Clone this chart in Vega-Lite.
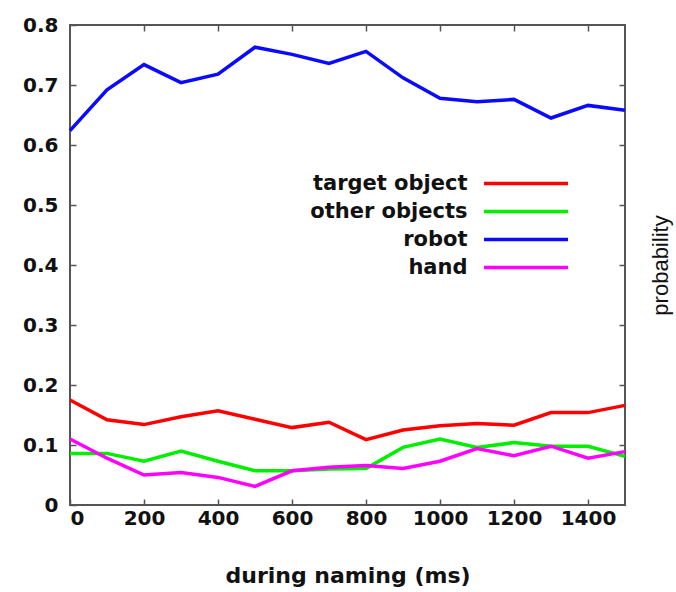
{
  "$schema": "https://vega.github.io/schema/vega-lite/v6.json",
  "width": 555,
  "height": 480,
  "autosize": "none",
  "padding": {"left": 70, "top": 25, "right": 51, "bottom": 87},
  "background": "white",
  "config": {
    "view": {"stroke": "#555", "strokeWidth": 2},
    "axis": {
      "domain": false, "grid": false, "tickColor": "#555", "tickSize": -6, "tickWidth": 1.5,
      "labelFont": "DejaVu Sans", "labelFontWeight": "bold", "labelFontSize": 20, "labelColor": "#111",
      "titleFont": "DejaVu Sans", "titleColor": "#111"
    }
  },
  "data": {"values": [
    {"t": 0, "series": "robot", "p": 0.624}, {"t": 100, "series": "robot", "p": 0.692}, {"t": 200, "series": "robot", "p": 0.734}, {"t": 300, "series": "robot", "p": 0.704},
    {"t": 400, "series": "robot", "p": 0.718}, {"t": 500, "series": "robot", "p": 0.763}, {"t": 600, "series": "robot", "p": 0.751}, {"t": 700, "series": "robot", "p": 0.736},
    {"t": 800, "series": "robot", "p": 0.756}, {"t": 900, "series": "robot", "p": 0.712}, {"t": 1000, "series": "robot", "p": 0.678}, {"t": 1100, "series": "robot", "p": 0.672},
    {"t": 1200, "series": "robot", "p": 0.676}, {"t": 1300, "series": "robot", "p": 0.645}, {"t": 1400, "series": "robot", "p": 0.666}, {"t": 1500, "series": "robot", "p": 0.658},
    {"t": 0, "series": "target object", "p": 0.175}, {"t": 100, "series": "target object", "p": 0.142}, {"t": 200, "series": "target object", "p": 0.134}, {"t": 300, "series": "target object", "p": 0.147},
    {"t": 400, "series": "target object", "p": 0.157}, {"t": 500, "series": "target object", "p": 0.143}, {"t": 600, "series": "target object", "p": 0.129}, {"t": 700, "series": "target object", "p": 0.138},
    {"t": 800, "series": "target object", "p": 0.109}, {"t": 900, "series": "target object", "p": 0.125}, {"t": 1000, "series": "target object", "p": 0.132}, {"t": 1100, "series": "target object", "p": 0.136},
    {"t": 1200, "series": "target object", "p": 0.133}, {"t": 1300, "series": "target object", "p": 0.154}, {"t": 1400, "series": "target object", "p": 0.154}, {"t": 1500, "series": "target object", "p": 0.166},
    {"t": 0, "series": "other objects", "p": 0.086}, {"t": 100, "series": "other objects", "p": 0.086}, {"t": 200, "series": "other objects", "p": 0.073}, {"t": 300, "series": "other objects", "p": 0.09},
    {"t": 400, "series": "other objects", "p": 0.073}, {"t": 500, "series": "other objects", "p": 0.057}, {"t": 600, "series": "other objects", "p": 0.057}, {"t": 700, "series": "other objects", "p": 0.06},
    {"t": 800, "series": "other objects", "p": 0.061}, {"t": 900, "series": "other objects", "p": 0.096}, {"t": 1000, "series": "other objects", "p": 0.11}, {"t": 1100, "series": "other objects", "p": 0.096},
    {"t": 1200, "series": "other objects", "p": 0.104}, {"t": 1300, "series": "other objects", "p": 0.098}, {"t": 1400, "series": "other objects", "p": 0.098}, {"t": 1500, "series": "other objects", "p": 0.081},
    {"t": 0, "series": "hand", "p": 0.11}, {"t": 100, "series": "hand", "p": 0.078}, {"t": 200, "series": "hand", "p": 0.05}, {"t": 300, "series": "hand", "p": 0.054},
    {"t": 400, "series": "hand", "p": 0.046}, {"t": 500, "series": "hand", "p": 0.031}, {"t": 600, "series": "hand", "p": 0.057}, {"t": 700, "series": "hand", "p": 0.063},
    {"t": 800, "series": "hand", "p": 0.066}, {"t": 900, "series": "hand", "p": 0.061}, {"t": 1000, "series": "hand", "p": 0.073}, {"t": 1100, "series": "hand", "p": 0.094},
    {"t": 1200, "series": "hand", "p": 0.082}, {"t": 1300, "series": "hand", "p": 0.098}, {"t": 1400, "series": "hand", "p": 0.078}, {"t": 1500, "series": "hand", "p": 0.089}
  ]},
  "layer": [
    {
      "mark": {"type": "line", "strokeWidth": 3.5},
      "encoding": {
        "x": {"field": "t", "type": "quantitative", "scale": {"domain": [0, 1500], "nice": false},
          "axis": {"values": [0, 200, 400, 600, 800, 1000, 1200, 1400], "format": "d", "title": "during naming (ms)", "titleFontSize": 22, "titleFontWeight": "bold", "titlePadding": 37, "labelPadding": 9}},
        "y": {"field": "p", "type": "quantitative", "scale": {"domain": [0, 0.8], "nice": false},
          "axis": {"values": [0, 0.1, 0.2, 0.3, 0.4, 0.5, 0.6, 0.7, 0.8], "title": null, "labelExpr": "datum.value == 0 ? '0' : format(datum.value, '.1f')", "labelPadding": 18}},
        "color": {"field": "series", "type": "nominal",
          "scale": {"domain": ["target object", "other objects", "robot", "hand"], "range": ["#ff0000", "#00ee00", "#0a0aff", "#ff00ff"]},
          "legend": {"orient": "none", "legendX": 445.5, "legendY": 148, "title": null, "padding": 0,
            "symbolType": "M-42,0H42", "symbolSize": 4, "symbolStrokeWidth": 3.5,
            "labelAlign": "right", "labelOffset": -69, "labelFont": "DejaVu Sans", "labelFontWeight": "bold", "labelFontSize": 21, "labelColor": "#111",
            "rowPadding": 6, "labelLimit": 400}}
      }
    },
    {
      "mark": {"type": "line", "opacity": 0},
      "encoding": {
        "x": {"field": "t", "type": "quantitative", "axis": {"orient": "top", "values": [200, 400, 600, 800, 1000, 1200, 1400], "labels": false, "title": null}},
        "y": {"field": "p", "type": "quantitative", "axis": {"orient": "right", "values": [0.1, 0.2, 0.3, 0.4, 0.5, 0.6, 0.7], "labels": false, "title": "probability", "titleAngle": 270, "titleFont": "Liberation Sans", "titleFontWeight": "normal", "titleFontSize": 22, "titlePadding": 47}},
        "detail": {"field": "series"}
      }
    }
  ],
  "resolve": {"axis": {"x": "independent", "y": "independent"}}
}
